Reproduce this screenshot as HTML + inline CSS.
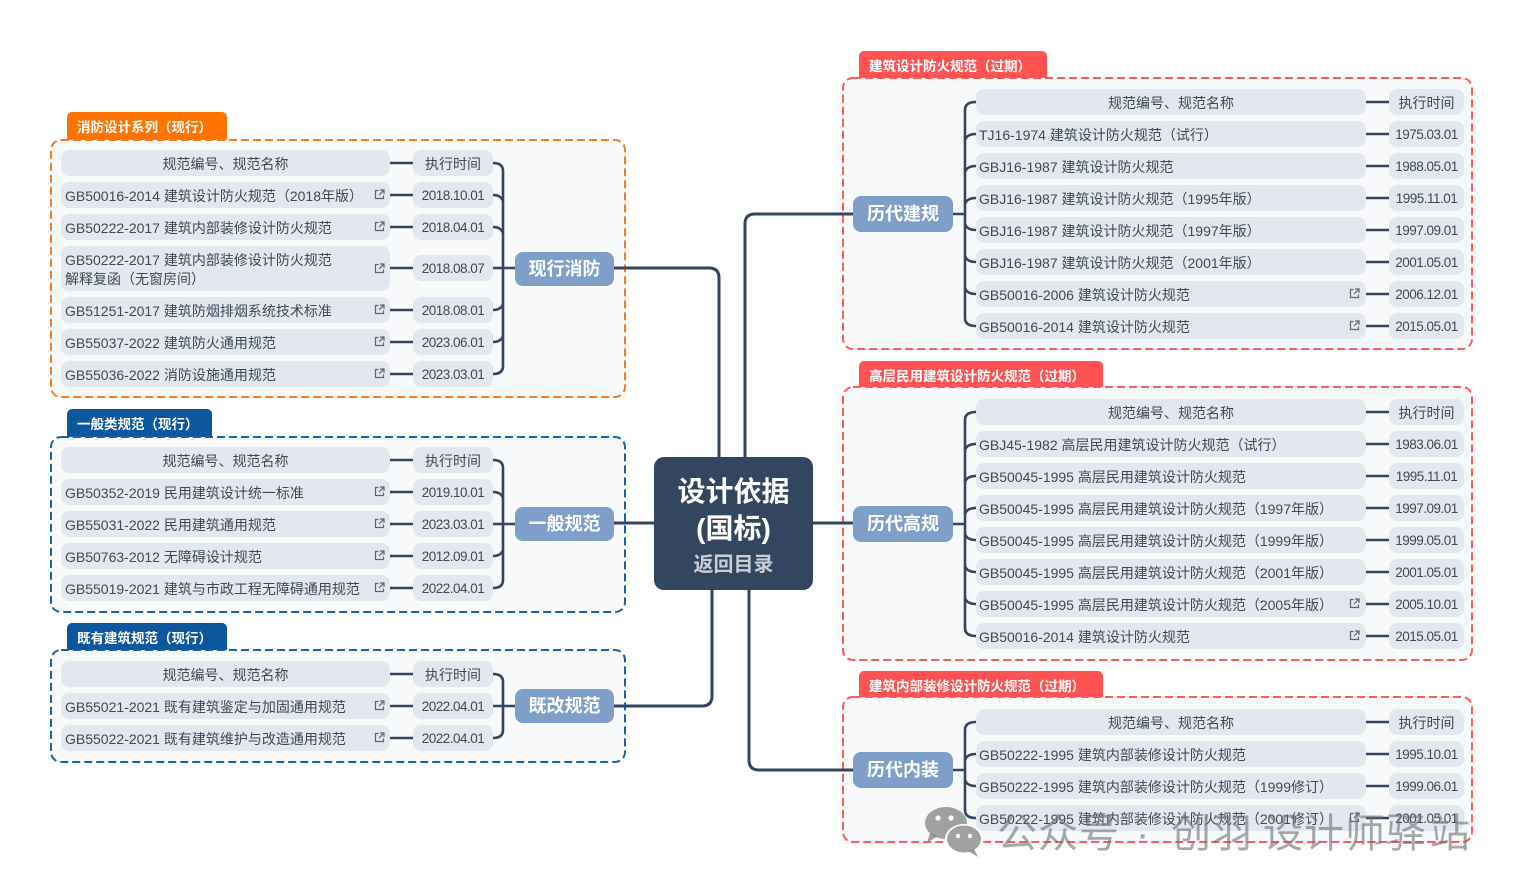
<!DOCTYPE html>
<html><head><meta charset="utf-8">
<style>
*{margin:0;padding:0;box-sizing:border-box}
html,body{width:1523px;height:893px;background:#fff;overflow:hidden}
body{position:relative;font-family:"Liberation Sans","Noto Sans CJK SC",sans-serif;color:#3e4857}
svg.bg{position:absolute;left:0;top:0}
.tag{position:absolute;color:#fff;font-size:13.5px;line-height:28px;height:28px;padding-left:10px;white-space:nowrap;font-weight:600}
.c{position:absolute;background:#e3e8f0;border-radius:8px;height:26px;line-height:28px;font-size:14px;white-space:nowrap;padding-left:4px}
.L{left:61px;width:329px}
.R{left:976px;width:390px;padding-left:3px}
.h{text-align:center;padding-left:0}
.d{position:absolute;background:#e3e8f0;border-radius:8px;height:26px;line-height:28px;font-size:13.5px;letter-spacing:-0.5px;text-align:center;white-space:nowrap}
.dL{left:413px;width:80px}
.dR{left:1389px;width:75px}
.dh{font-size:14px;letter-spacing:0}
.ic{position:absolute;top:7px;width:11px;height:11px}
.L .ic{left:313px}
.R .ic{left:373px}
.node{position:absolute;background:#809fc8;border-radius:8px;color:#fff;font-weight:bold;font-size:18px;text-align:center;white-space:nowrap}
.nl{left:515px;width:99px;height:34px;line-height:35px}
.nr{left:853px;width:100px;height:36px;line-height:37px}
.center{position:absolute;left:654px;top:457px;width:159px;height:133px;background:#344560;border-radius:10px;text-align:center;color:#fff;font-weight:bold}
.wm{position:absolute;top:812px;font-size:40px;line-height:44px;color:rgba(115,115,115,0.62);white-space:nowrap}
</style></head><body>
<svg class="bg" width="1523" height="893" viewBox="0 0 1523 893">
<rect x="67" y="112" width="160" height="34" rx="5" fill="#ff7300"/>
<rect x="67" y="409" width="145" height="34" rx="5" fill="#0c579d"/>
<rect x="67" y="623" width="160" height="34" rx="5" fill="#0c579d"/>
<rect x="859" y="51" width="188" height="34" rx="5" fill="#ff5252"/>
<rect x="859" y="361" width="244" height="34" rx="5" fill="#ff5252"/>
<rect x="859" y="671" width="244" height="34" rx="5" fill="#ff5252"/>
<g stroke-width="2" stroke-dasharray="8 4">
<rect x="51" y="140" width="574" height="257" rx="10" fill="#f8f9fb" stroke="#ff7a14"/>
<rect x="51" y="437" width="574" height="175" rx="10" fill="#f8f9fb" stroke="#1763a8"/>
<rect x="51" y="650" width="574" height="112" rx="10" fill="#f8f9fb" stroke="#1763a8"/>
<rect x="843" y="78" width="629" height="271" rx="10" fill="#f8f9fb" stroke="#ff5a5a"/>
<rect x="843" y="387" width="629" height="273" rx="10" fill="#f8f9fb" stroke="#ff5a5a"/>
<rect x="843" y="697" width="629" height="145" rx="10" fill="#f8f9fb" stroke="#ff5a5a"/>
</g>
<g fill="none" stroke="#344560" stroke-width="3">
<path d="M614,268 H709 Q719,268 719,278 V458"/>
<path d="M745,458 V224 Q745,214 755,214 H853"/>
<path d="M614,523 H654"/>
<path d="M813,523 H853"/>
<path d="M712,589 V696 Q712,706 702,706 H614"/>
<path d="M749,589 V760 Q749,770 759,770 H853"/>
</g>
<g fill="none" stroke="#344560" stroke-width="2.6">
<path d="M390,163H413M390,195H413M390,227H413M390,268H413M390,310H413M390,342H413M390,374H413"/>
<path d="M493,163 Q503,163 503,171 V366 Q503,374 493,374"/>
<path d="M493,195 Q501,195 503,201 M493,227 Q501,227 503,233 M493,268 H515 M493,310 Q501,310 503,304 M493,342 Q501,342 503,336"/>
<path d="M390,460H413M390,492H413M390,524H413M390,556H413M390,588H413"/>
<path d="M493,460 Q503,460 503,468 V580 Q503,588 493,588"/>
<path d="M493,492 Q501,492 503,498 M493,524 H515 M493,556 Q501,556 503,550"/>
<path d="M390,674H413M390,706H413M390,738H413"/>
<path d="M493,674 Q503,674 503,682 V730 Q503,738 493,738"/>
<path d="M493,706 H515"/>
<path d="M1366,102H1389M1366,134H1389M1366,166H1389M1366,198H1389M1366,230H1389M1366,262H1389M1366,294H1389M1366,326H1389"/>
<path d="M976,102 Q965,102 965,110 V318 Q965,326 976,326"/>
<path d="M976,134 Q967,134 965,140 M976,166 Q967,166 965,172 M976,198 Q967,198 965,204 M976,230 Q967,230 965,224 M976,262 Q967,262 965,256 M976,294 Q967,294 965,288 M953,214 H965"/>
<path d="M1366,412H1389M1366,444H1389M1366,476H1389M1366,508H1389M1366,540H1389M1366,572H1389M1366,604H1389M1366,636H1389"/>
<path d="M976,412 Q965,412 965,420 V628 Q965,636 976,636"/>
<path d="M976,444 Q967,444 965,450 M976,476 Q967,476 965,482 M976,508 Q967,508 965,514 M976,540 Q967,540 965,534 M976,572 Q967,572 965,566 M976,604 Q967,604 965,598 M953,524 H965"/>
<path d="M1366,722H1389M1366,754H1389M1366,786H1389M1366,818H1389"/>
<path d="M976,722 Q965,722 965,730 V810 Q965,818 976,818"/>
<path d="M976,754 Q967,754 965,760 M976,786 Q967,786 965,780 M953,770 H965"/>
</g>
</svg>

<div class="tag" style="left:67px;top:114px">消防设计系列（现行）</div>
<div class="tag" style="left:67px;top:411px">一般类规范（现行）</div>
<div class="tag" style="left:67px;top:625px">既有建筑规范（现行）</div>
<div class="tag" style="left:859px;top:53px">建筑设计防火规范（过期）</div>
<div class="tag" style="left:859px;top:363px">高层民用建筑设计防火规范（过期）</div>
<div class="tag" style="left:859px;top:673px">建筑内部装修设计防火规范（过期）</div>

<div class="c L h" style="top:150px">规范编号、规范名称</div>
<div class="d dL dh" style="top:150px">执行时间</div>
<div class="c L" style="top:182px">GB50016-2014 建筑设计防火规范（2018年版）<svg class="ic" viewBox="0 0 11 11"><path d="M4.5,1.5H1.5V9.5H9.5V6.5M6,1H10V5M10,1L5,6" fill="none" stroke="#5a6577" stroke-width="1.2"/></svg></div>
<div class="d dL" style="top:182px">2018.10.01</div>
<div class="c L" style="top:214px">GB50222-2017 建筑内部装修设计防火规范<svg class="ic" viewBox="0 0 11 11"><path d="M4.5,1.5H1.5V9.5H9.5V6.5M6,1H10V5M10,1L5,6" fill="none" stroke="#5a6577" stroke-width="1.2"/></svg></div>
<div class="d dL" style="top:214px">2018.04.01</div>
<div class="c L" style="top:246px;height:45px;line-height:19px;padding-top:5px">GB50222-2017 建筑内部装修设计防火规范<br>解释复函（无窗房间）<svg class="ic" style="top:17px" viewBox="0 0 11 11"><path d="M4.5,1.5H1.5V9.5H9.5V6.5M6,1H10V5M10,1L5,6" fill="none" stroke="#5a6577" stroke-width="1.2"/></svg></div>
<div class="d dL" style="top:255px">2018.08.07</div>
<div class="c L" style="top:297px">GB51251-2017 建筑防烟排烟系统技术标准<svg class="ic" viewBox="0 0 11 11"><path d="M4.5,1.5H1.5V9.5H9.5V6.5M6,1H10V5M10,1L5,6" fill="none" stroke="#5a6577" stroke-width="1.2"/></svg></div>
<div class="d dL" style="top:297px">2018.08.01</div>
<div class="c L" style="top:329px">GB55037-2022 建筑防火通用规范<svg class="ic" viewBox="0 0 11 11"><path d="M4.5,1.5H1.5V9.5H9.5V6.5M6,1H10V5M10,1L5,6" fill="none" stroke="#5a6577" stroke-width="1.2"/></svg></div>
<div class="d dL" style="top:329px">2023.06.01</div>
<div class="c L" style="top:361px">GB55036-2022 消防设施通用规范<svg class="ic" viewBox="0 0 11 11"><path d="M4.5,1.5H1.5V9.5H9.5V6.5M6,1H10V5M10,1L5,6" fill="none" stroke="#5a6577" stroke-width="1.2"/></svg></div>
<div class="d dL" style="top:361px">2023.03.01</div>
<div class="node nl" style="top:252px">现行消防</div>

<div class="c L h" style="top:447px">规范编号、规范名称</div>
<div class="d dL dh" style="top:447px">执行时间</div>
<div class="c L" style="top:479px">GB50352-2019 民用建筑设计统一标准<svg class="ic" viewBox="0 0 11 11"><path d="M4.5,1.5H1.5V9.5H9.5V6.5M6,1H10V5M10,1L5,6" fill="none" stroke="#5a6577" stroke-width="1.2"/></svg></div>
<div class="d dL" style="top:479px">2019.10.01</div>
<div class="c L" style="top:511px">GB55031-2022 民用建筑通用规范<svg class="ic" viewBox="0 0 11 11"><path d="M4.5,1.5H1.5V9.5H9.5V6.5M6,1H10V5M10,1L5,6" fill="none" stroke="#5a6577" stroke-width="1.2"/></svg></div>
<div class="d dL" style="top:511px">2023.03.01</div>
<div class="c L" style="top:543px">GB50763-2012 无障碍设计规范<svg class="ic" viewBox="0 0 11 11"><path d="M4.5,1.5H1.5V9.5H9.5V6.5M6,1H10V5M10,1L5,6" fill="none" stroke="#5a6577" stroke-width="1.2"/></svg></div>
<div class="d dL" style="top:543px">2012.09.01</div>
<div class="c L" style="top:575px">GB55019-2021 建筑与市政工程无障碍通用规范<svg class="ic" viewBox="0 0 11 11"><path d="M4.5,1.5H1.5V9.5H9.5V6.5M6,1H10V5M10,1L5,6" fill="none" stroke="#5a6577" stroke-width="1.2"/></svg></div>
<div class="d dL" style="top:575px">2022.04.01</div>
<div class="node nl" style="top:507px">一般规范</div>

<div class="c L h" style="top:661px">规范编号、规范名称</div>
<div class="d dL dh" style="top:661px">执行时间</div>
<div class="c L" style="top:693px">GB55021-2021 既有建筑鉴定与加固通用规范<svg class="ic" viewBox="0 0 11 11"><path d="M4.5,1.5H1.5V9.5H9.5V6.5M6,1H10V5M10,1L5,6" fill="none" stroke="#5a6577" stroke-width="1.2"/></svg></div>
<div class="d dL" style="top:693px">2022.04.01</div>
<div class="c L" style="top:725px">GB55022-2021 既有建筑维护与改造通用规范<svg class="ic" viewBox="0 0 11 11"><path d="M4.5,1.5H1.5V9.5H9.5V6.5M6,1H10V5M10,1L5,6" fill="none" stroke="#5a6577" stroke-width="1.2"/></svg></div>
<div class="d dL" style="top:725px">2022.04.01</div>
<div class="node nl" style="top:689px">既改规范</div>

<div class="center">
<div style="position:absolute;left:0;right:0;top:17px;font-size:28px;line-height:36px">设计依据</div>
<div style="position:absolute;left:0;right:0;top:54px;font-size:28px;line-height:36px">(国标)</div>
<div style="position:absolute;left:0;right:0;top:95px;font-size:20px;line-height:26px;color:#c9ced7">返回目录</div>
</div>

<div class="c R h" style="top:89px">规范编号、规范名称</div>
<div class="d dR dh" style="top:89px">执行时间</div>
<div class="c R" style="top:121px">TJ16-1974 建筑设计防火规范（试行）</div>
<div class="d dR" style="top:121px">1975.03.01</div>
<div class="c R" style="top:153px">GBJ16-1987 建筑设计防火规范</div>
<div class="d dR" style="top:153px">1988.05.01</div>
<div class="c R" style="top:185px">GBJ16-1987 建筑设计防火规范（1995年版）</div>
<div class="d dR" style="top:185px">1995.11.01</div>
<div class="c R" style="top:217px">GBJ16-1987 建筑设计防火规范（1997年版）</div>
<div class="d dR" style="top:217px">1997.09.01</div>
<div class="c R" style="top:249px">GBJ16-1987 建筑设计防火规范（2001年版）</div>
<div class="d dR" style="top:249px">2001.05.01</div>
<div class="c R" style="top:281px">GB50016-2006 建筑设计防火规范<svg class="ic" viewBox="0 0 11 11"><path d="M4.5,1.5H1.5V9.5H9.5V6.5M6,1H10V5M10,1L5,6" fill="none" stroke="#5a6577" stroke-width="1.2"/></svg></div>
<div class="d dR" style="top:281px">2006.12.01</div>
<div class="c R" style="top:313px">GB50016-2014 建筑设计防火规范<svg class="ic" viewBox="0 0 11 11"><path d="M4.5,1.5H1.5V9.5H9.5V6.5M6,1H10V5M10,1L5,6" fill="none" stroke="#5a6577" stroke-width="1.2"/></svg></div>
<div class="d dR" style="top:313px">2015.05.01</div>
<div class="node nr" style="top:196px">历代建规</div>

<div class="c R h" style="top:399px">规范编号、规范名称</div>
<div class="d dR dh" style="top:399px">执行时间</div>
<div class="c R" style="top:431px">GBJ45-1982 高层民用建筑设计防火规范（试行）</div>
<div class="d dR" style="top:431px">1983.06.01</div>
<div class="c R" style="top:463px">GB50045-1995 高层民用建筑设计防火规范</div>
<div class="d dR" style="top:463px">1995.11.01</div>
<div class="c R" style="top:495px">GB50045-1995 高层民用建筑设计防火规范（1997年版）</div>
<div class="d dR" style="top:495px">1997.09.01</div>
<div class="c R" style="top:527px">GB50045-1995 高层民用建筑设计防火规范（1999年版）</div>
<div class="d dR" style="top:527px">1999.05.01</div>
<div class="c R" style="top:559px">GB50045-1995 高层民用建筑设计防火规范（2001年版）</div>
<div class="d dR" style="top:559px">2001.05.01</div>
<div class="c R" style="top:591px">GB50045-1995 高层民用建筑设计防火规范（2005年版）<svg class="ic" viewBox="0 0 11 11"><path d="M4.5,1.5H1.5V9.5H9.5V6.5M6,1H10V5M10,1L5,6" fill="none" stroke="#5a6577" stroke-width="1.2"/></svg></div>
<div class="d dR" style="top:591px">2005.10.01</div>
<div class="c R" style="top:623px">GB50016-2014 建筑设计防火规范<svg class="ic" viewBox="0 0 11 11"><path d="M4.5,1.5H1.5V9.5H9.5V6.5M6,1H10V5M10,1L5,6" fill="none" stroke="#5a6577" stroke-width="1.2"/></svg></div>
<div class="d dR" style="top:623px">2015.05.01</div>
<div class="node nr" style="top:506px">历代高规</div>

<div class="c R h" style="top:709px">规范编号、规范名称</div>
<div class="d dR dh" style="top:709px">执行时间</div>
<div class="c R" style="top:741px">GB50222-1995 建筑内部装修设计防火规范</div>
<div class="d dR" style="top:741px">1995.10.01</div>
<div class="c R" style="top:773px">GB50222-1995 建筑内部装修设计防火规范（1999修订）</div>
<div class="d dR" style="top:773px">1999.06.01</div>
<div class="c R" style="top:805px">GB50222-1995 建筑内部装修设计防火规范（2001修订）<svg class="ic" viewBox="0 0 11 11"><path d="M4.5,1.5H1.5V9.5H9.5V6.5M6,1H10V5M10,1L5,6" fill="none" stroke="#5a6577" stroke-width="1.2"/></svg></div>
<div class="d dR" style="top:805px">2001.05.01</div>
<div class="node nr" style="top:752px">历代内装</div>

<svg style="position:absolute;left:920px;top:803px" width="66" height="56" viewBox="0 0 66 56">
<g fill="rgba(125,125,125,0.72)">
<ellipse cx="26" cy="20" rx="21" ry="16"/>
<path d="M10,30 L7,40 L18,33 Z"/>
</g>
<ellipse cx="44" cy="36" rx="19" ry="15" fill="#fff"/>
<g fill="rgba(125,125,125,0.72)">
<ellipse cx="44" cy="36" rx="17" ry="13.5"/>
<path d="M54,46 L58,54 L48,48 Z"/>
</g>
<g fill="#fff">
<circle cx="18" cy="15" r="2.6"/><circle cx="31" cy="15" r="2.6"/>
<circle cx="38" cy="33" r="2.2"/><circle cx="50" cy="33" r="2.2"/>
</g>
</svg>
<span class="wm" style="left:997px">公</span>
<span class="wm" style="left:1038px">众</span>
<span class="wm" style="left:1079px">号</span>
<span class="wm" style="left:1136px">·</span>
<span class="wm" style="left:1171px">创</span>
<span class="wm" style="left:1212px">羽</span>
<span class="wm" style="left:1263px">设</span>
<span class="wm" style="left:1304px">计</span>
<span class="wm" style="left:1345px">师</span>
<span class="wm" style="left:1386px">驿</span>
<span class="wm" style="left:1430px">站</span>
</body></html>
